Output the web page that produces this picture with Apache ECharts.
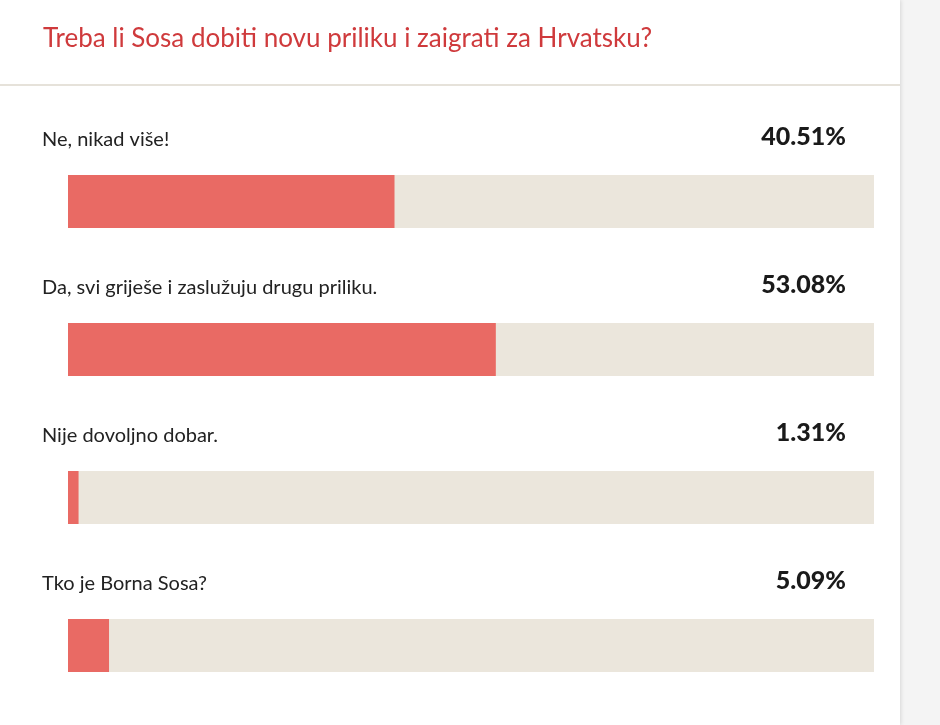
<!DOCTYPE html>
<html><head><meta charset="utf-8">
<script src="https://cdn.jsdelivr.net/npm/echarts@6/dist/echarts.min.js"></script>
<style>
html,body{margin:0;padding:0;background:#f4f4f4;}
#card{position:absolute;left:0;top:0;width:900px;height:725px;background:#fff;box-shadow:1px 0 4px rgba(0,0,0,0.12);}
#c{position:absolute;left:0;top:0;width:940px;height:725px;}
</style></head><body>
<div id="card"></div><div id="c"></div>
<script>
const title = 'Treba li Sosa dobiti novu priliku i zaigrati za Hrvatsku?';
const categories = ['Ne, nikad više!', 'Da, svi griješe i zaslužuju drugu priliku.', 'Nije dovoljno dobar.', 'Tko je Borna Sosa?'];
const values = [40.51, 53.08, 1.31, 5.09];
const full = categories.map(() => 100);

const chart = echarts.init(document.getElementById('c'));
chart.setOption({
  animation: false,
  title: { text: title, left: 38, top: 21, textStyle: { color: '#cf3a3c', fontSize: 26, fontWeight: 'normal', fontFamily: 'Lato' } },
  graphic: [{ type: 'line', shape: { x1: 0, y1: 85, x2: 900, y2: 85 }, style: { stroke: '#e6e2da', lineWidth: 2 } }],
  grid: { left: 68, right: 66, top: 127.5, bottom: 5.5 },
  xAxis: { type: 'value', min: 0, max: 100, show: false },
  yAxis: { type: 'category', data: categories, inverse: true, show: false },
  series: [
    { type: 'bar', data: full, barWidth: 53, barGap: '-100%', itemStyle: { color: '#ebe6dc' }, silent: true,
      label: { show: true, position: 'insideTopLeft', offset: [-31, -50], formatter: p => p.name,
        color: '#222', fontSize: 20, fontFamily: 'Lato' } },
    { type: 'bar', data: values, barWidth: 53, itemStyle: { color: '#e96a64' }, z: 3 },
    { type: 'bar', data: full, barWidth: 53, barGap: '-100%', itemStyle: { color: 'transparent' }, silent: true, z: 4,
      label: { show: true, position: 'insideTopRight', offset: [-23, -56], formatter: p => values[p.dataIndex].toFixed(2) + '%',
        color: '#1a1a1a', fontSize: 25, fontWeight: 900, fontFamily: 'Lato' } }
  ]
});
</script></body></html>
